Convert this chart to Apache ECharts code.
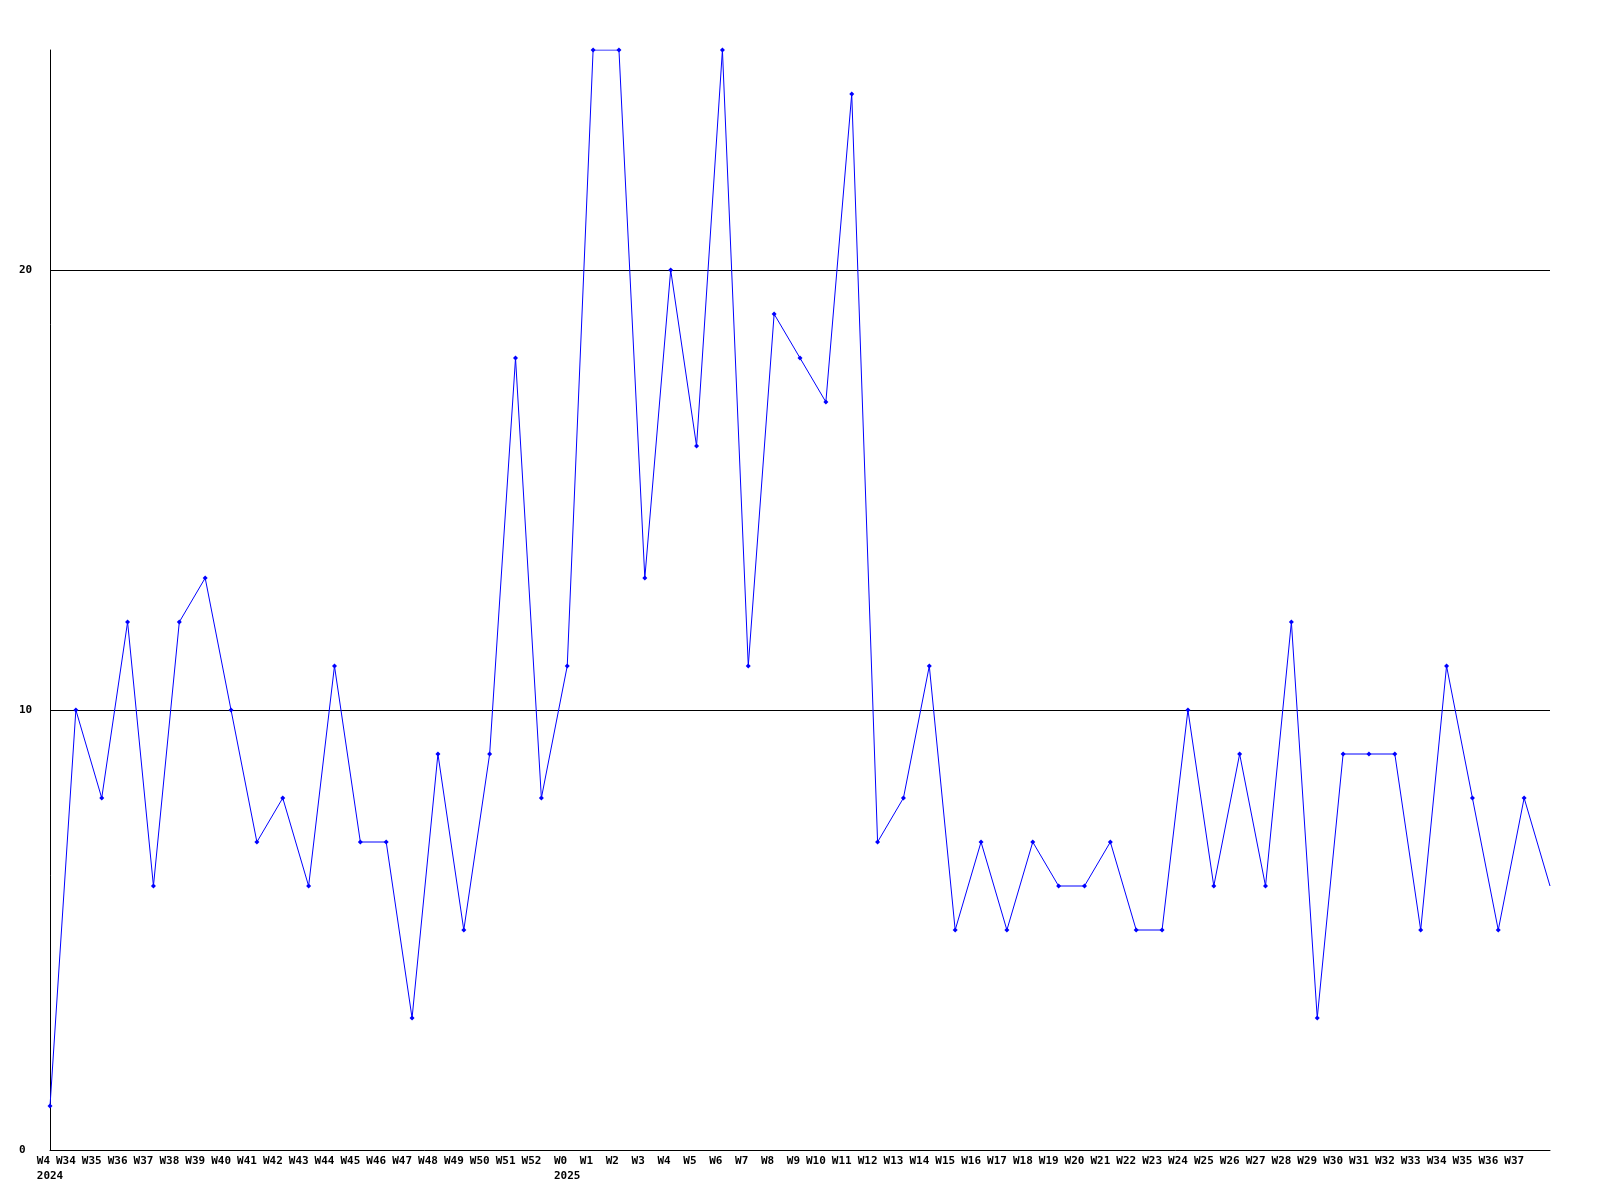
<!DOCTYPE html>
<html>
<head>
<meta charset="utf-8">
<title>Weekly count</title>
<script src="https://cdn.jsdelivr.net/npm/echarts@6/dist/echarts.min.js"></script>
<style>
  html, body { margin: 0; padding: 0; background: #fff; }
  #chart { width: 1600px; height: 1200px; }
</style>
</head>
<body>
<div id="chart"></div>
<script>
// week labels (last one, W38, is not printed in the original)
var weeks = ['W4', 'W34', 'W35', 'W36', 'W37', 'W38', 'W39', 'W40', 'W41', 'W42', 'W43', 'W44', 'W45', 'W46', 'W47',
  'W48', 'W49', 'W50', 'W51', 'W52', 'W0', 'W1', 'W2', 'W3', 'W4', 'W5', 'W6', 'W7', 'W8', 'W9', 'W10',
  'W11', 'W12', 'W13', 'W14', 'W15', 'W16', 'W17', 'W18', 'W19', 'W20', 'W21', 'W22', 'W23', 'W24', 'W25',
  'W26', 'W27', 'W28', 'W29', 'W30', 'W31', 'W32', 'W33', 'W34', 'W35', 'W36', 'W37', 'W38'];
// year shown under the first week of each year
var years = ['2024', '', '', '', '', '', '', '', '', '', '', '', '', '', '', '', '', '', '', '', '2025'];
var counts = [1, 10, 8, 12, 6, 12, 13, 10, 7, 8, 6, 11, 7, 7, 3,
  9, 5, 9, 18, 8, 11, 25, 25, 13, 20, 16, 25, 11, 19, 18, 17,
  24, 7, 8, 11, 5, 7, 5, 7, 6, 6, 7, 5, 5, 10, 6,
  9, 6, 12, 3, 9, 9, 9, 5, 11, 8, 5, 8, 6];
var yTicks = { min: 0, max: 25, step: 10 };

var labelFont = { fontFamily: 'DejaVu Sans Mono', fontWeight: 'bold', fontSize: 11, color: '#000' };

var chart = echarts.init(document.getElementById('chart'));
var option = {
  animation: false,
  backgroundColor: '#fff',
  grid: { left: 50, right: 50, top: 50, bottom: 50, containLabel: false },
  xAxis: [
    {
      type: 'category',
      data: weeks,
      boundaryGap: false,
      axisLine: { show: true, lineStyle: { color: '#000', width: 1 } },
      axisTick: { show: false },
      splitLine: { show: false },
      axisLabel: Object.assign({
        interval: 0,
        align: 'right',
        margin: 6,
        formatter: function (v, i) { return i === weeks.length - 1 ? '' : v; }
      }, labelFont)
    },
    {
      type: 'category',
      position: 'bottom',
      data: weeks,
      boundaryGap: false,
      axisLine: { show: false },
      axisTick: { show: false },
      splitLine: { show: false },
      axisLabel: Object.assign({
        interval: 0,
        align: 'center',
        margin: 21,
        formatter: function (v, i) { return years[i] || ''; }
      }, labelFont)
    }
  ],
  yAxis: {
    type: 'value',
    min: yTicks.min,
    max: yTicks.max,
    interval: yTicks.step,
    axisLine: { show: true, lineStyle: { color: '#000', width: 1 } },
    axisTick: { show: false },
    splitLine: { show: true, showMaxLine: false, showMinLine: false, lineStyle: { color: '#000', width: 1 } },
    axisLabel: Object.assign({
      align: 'left',
      margin: 31,
      showMaxLabel: false
    }, labelFont)
  },
  series: [
    {
      type: 'line',
      data: counts.map(function (v, i) {
        return i === counts.length - 1 ? { value: v, symbol: 'none' } : v;
      }),
      symbol: 'diamond',
      symbolSize: 5,
      showAllSymbol: true,
      lineStyle: { color: '#0000ff', width: 1 },
      itemStyle: { color: '#0000ff' }
    }
  ]
};
chart.setOption(option);
</script>
</body>
</html>
